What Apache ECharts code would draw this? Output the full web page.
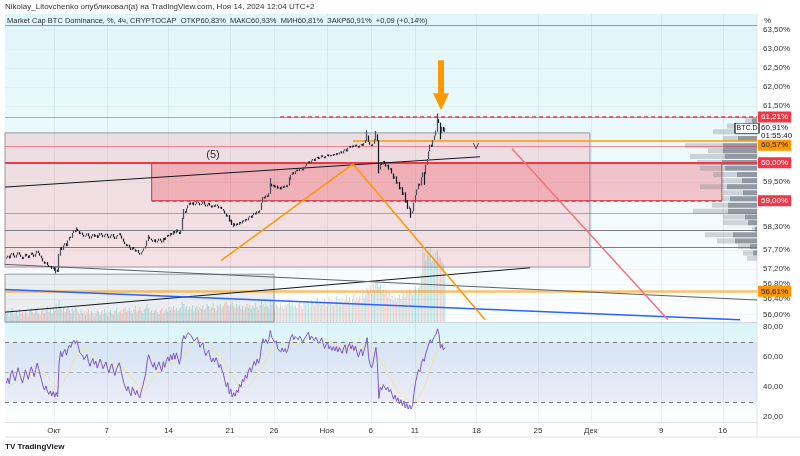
<!DOCTYPE html>
<html>
<head>
<meta charset="utf-8">
<title>Market Cap BTC Dominance</title>
<script src="https://cdn.jsdelivr.net/npm/echarts@6/dist/echarts.min.js"></script>
<style>
  html, body { margin: 0; padding: 0; background: #fff; }
  #chart { width: 800px; height: 456px; }
</style>
</head>
<body>
<div id="chart"></div>
<script>
// x positions are days counted from 1 Oct 2024 00:00 (UTC+2)
const dayTicks = [0, 6, 13, 20, 25, 31, 36, 41, 48, 55, 61, 69, 76];
const dayLabels = ['Окт', '7', '14', '21', '26', 'Ноя', '6', '11', '18', '25', 'Дек', '9', '16'];
const priceTicks = [56.0, 56.4, 56.8, 57.2, 57.7, 58.3, 59.5, 61.5, 62.0, 62.5, 63.0, 63.5];
const rsiTicks = [20, 40, 60, 80];

const firstCandleDay = -5.4167; // 25 Sep 10:00
const candleStep = 1 / 6;       // 4h candles

// closes before the visible window, only used to warm up the RSI
const warmupCloses = [57.82, 57.88, 57.80, 57.85, 57.76, 57.72, 57.79, 57.70, 57.74, 57.66, 57.71, 57.64, 57.68, 57.60,
  57.66, 57.58, 57.63, 57.55, 57.60, 57.52, 57.57, 57.49, 57.54, 57.46, 57.52, 57.44, 57.50, 57.47];

const closes = [
  57.50, 57.55, 57.48, 57.58, 57.62, 57.55, 57.50, 57.57, 57.64, 57.58, 57.52, 57.46,
  57.52, 57.60, 57.55, 57.49, 57.57, 57.63, 57.58, 57.52, 57.60, 57.68, 57.62, 57.55,
  57.48, 57.40, 57.34, 57.38, 57.30, 57.25, 57.28, 57.20, 57.24, 57.15, 57.19, 57.12,
  57.55, 57.78, 57.70, 57.82, 57.88, 57.80, 57.95, 58.05, 58.02, 58.15, 58.22, 58.18,
  58.26, 58.20, 58.12, 58.16, 58.10, 58.05, 58.08, 58.14, 58.06, 58.00, 58.07, 58.12,
  58.05, 58.10, 58.02, 58.08, 58.15, 58.10, 58.04, 58.09, 58.13, 58.06, 58.01, 58.08,
  58.12, 58.05, 57.99, 58.06, 58.10, 58.14, 58.08, 58.00, 57.92, 57.86, 57.80, 57.84,
  57.76, 57.70, 57.78, 57.72, 57.66, 57.70, 57.62, 57.58, 57.64, 57.68, 57.74, 57.80,
  57.95, 58.05, 58.00, 57.96, 57.92, 57.98, 57.90, 57.94, 58.00, 57.95, 57.90, 58.02,
  57.96, 58.04, 58.10, 58.06, 58.15, 58.10, 58.20, 58.14, 58.24, 58.18, 58.12, 58.22,
  58.55, 58.72, 58.68, 58.80, 58.88, 58.95, 58.90, 58.96, 58.88, 58.92, 58.98, 58.94,
  58.88, 58.92, 58.98, 58.90, 58.85, 58.90, 58.94, 58.87, 58.82, 58.88, 58.84, 58.90,
  58.86, 58.80, 58.84, 58.78, 58.74, 58.66, 58.58, 58.62, 58.45, 58.50, 58.36, 58.40,
  58.34, 58.40, 58.36, 58.44, 58.40, 58.48, 58.45, 58.52, 58.48, 58.56, 58.60, 58.55,
  58.62, 58.68, 58.64, 58.72, 58.68, 58.75, 58.95, 59.10, 59.06, 59.14, 59.10, 59.20,
  59.45, 59.38, 59.42, 59.35, 59.40, 59.32, 59.36, 59.30, 59.38, 59.34, 59.40, 59.36,
  59.42, 59.55, 59.68, 59.75, 59.70, 59.78, 59.82, 59.78, 59.86, 59.84, 59.80, 59.88,
  59.92, 59.98, 60.04, 59.98, 60.06, 60.10, 60.05, 60.12, 60.16, 60.10, 60.14, 60.20,
  60.16, 60.12, 60.18, 60.22, 60.17, 60.21, 60.18, 60.23, 60.20, 60.26, 60.22, 60.28,
  60.30, 60.25, 60.32, 60.36, 60.30, 60.40, 60.44, 60.40, 60.46, 60.42, 60.48, 60.44,
  60.40, 60.46, 60.50, 60.45, 60.52, 60.60, 60.72, 60.55, 60.48, 60.44, 60.50, 60.62,
  60.75, 60.58, 59.82, 60.02, 59.95, 60.05, 59.98, 59.90, 59.95, 59.82, 59.86, 59.72,
  59.58, 59.64, 59.45, 59.50, 59.30, 59.36, 59.15, 59.22, 58.95, 59.02, 58.78, 58.85,
  58.66, 58.72, 58.95, 59.15, 59.30, 59.45, 59.40, 59.62, 59.75, 59.70, 59.95, 60.10,
  60.30, 60.48, 60.42, 60.60, 60.72, 60.85, 61.15, 61.05, 60.78, 60.95, 60.83, 60.91
];

// visible wicks: [candle index, low, high]
const wicks = [
  [34, 57.08, 57.24], [36, 57.12, 57.60], [48, 58.18, 58.30], [97, 57.94, 58.10],
  [121, 58.52, 58.78], [155, 58.30, 58.42], [180, 59.18, 59.60], [193, 59.40, 59.62],
  [246, 60.58, 60.86], [252, 60.60, 60.84], [254, 59.72, 60.60], [276, 58.55, 58.80],
  [285, 59.42, 59.76], [294, 60.82, 61.30], [296, 60.62, 61.06], [299, 60.81, 60.93]
];

const volumes = [
  8, 12, 6, 10, 14, 7, 9, 11, 6, 13, 8, 10, 7, 12, 9, 6, 11, 14, 10, 8, 13, 15, 9, 7,
  11, 14, 9, 12, 16, 10, 13, 9, 15, 11, 18, 12, 22, 16, 12, 14, 10, 13, 15, 12, 9, 14, 11, 16,
  13, 10, 8, 12, 9, 11, 7, 10, 12, 8, 11, 9, 6, 9, 12, 10, 7, 11, 8, 13, 9, 6, 10, 12,
  9, 7, 11, 14, 8, 10, 12, 9, 13, 15, 10, 12, 14, 11, 9, 13, 16, 10, 12, 15, 11, 9, 13, 14,
  18, 14, 10, 12, 9, 11, 13, 10, 8, 12, 14, 9, 11, 13, 10, 15, 12, 14, 16, 12, 14, 11, 13, 15,
  20, 18, 14, 16, 12, 15, 13, 17, 11, 14, 16, 12, 15, 13, 17, 12, 14, 18, 16, 13, 15, 19, 14, 12,
  17, 15, 18, 14, 16, 19, 20, 17, 15, 18, 21, 16, 14, 18, 15, 17, 13, 16, 12, 15, 18, 14, 17, 13,
  16, 14, 19, 15, 12, 17, 21, 18, 15, 19, 16, 14, 23, 17, 20, 15, 18, 16, 14, 19, 16, 13, 17, 15,
  18, 22, 16, 19, 15, 17, 14, 18, 20, 16, 13, 19, 17, 21, 18, 15, 22, 19, 16, 20, 24, 18, 21, 17,
  19, 23, 16, 20, 25, 18, 22, 17, 21, 26, 19, 23, 20, 24, 18, 22, 27, 21, 25, 19, 23, 28, 21, 24,
  22, 26, 20, 29, 24, 27, 34, 30, 36, 28, 38, 32, 40, 42, 35, 38, 30, 33, 28, 31, 25, 29, 23, 26,
  22, 25, 20, 24, 27, 23, 26, 29, 25, 31, 28, 33, 30, 27, 32, 35, 29, 34, 36, 48, 76, 70, 62, 72,
  66, 74, 60, 68, 62, 70, 72, 66, 64, 60, 58, 50
];

// visible range volume profile (right side)
const profileLevels = [61.11, 60.97, 60.82, 60.64, 60.45, 60.32, 60.17, 60.01, 59.86, 59.69, 59.53, 59.37,
  59.21, 59.05, 58.88, 58.72, 58.57, 58.42, 58.25, 58.10, 57.94, 57.79, 57.62, 57.48];
const profileTotal = [12, 30, 44, 34, 72, 49, 67, 60, 57, 44, 35, 57, 34, 35, 45, 64, 34, 34, 5, 52, 40, 19, 14, 10];
const profileDark = [5, 19, 22, 19, 34, 34, 32, 35, 32, 20, 15, 30, 14, 27, 29, 29, 12, 9, 2, 24, 22, 7, 4, 0];

const xMin = -5.568, xMax = 79.886;

// drawings: [day1, price1, day2, price2]
const trendLines = [
  [xMin, 59.36, 48.41, 60.16],
  [xMin, 56.06, 54.09, 57.23],
  [xMin, 57.32, xMax, 56.38],
  [xMin, 56.66, 77.95, 55.86],
  [18.98, 57.42, 33.98, 59.97],
  [33.98, 59.97, 48.98, 55.86],
  [52.05, 60.37, 69.77, 55.86]
];
const zones = [
  [xMin, 60.79, 60.9, 57.25],
  [11.1, 60.0, 75.9, 59.0],
  [xMin, 57.06, 25.0, 55.80]
];

var chartDom = document.getElementById('chart');
var myChart = echarts.init(chartDom);
var option;

const font = 'Liberation Sans';
const pct = v => v.toFixed(2).replace('.', ',') + '%';
const clear = 'rgba(0,0,0,0)';

const wickMap = {};
wicks.forEach(w => { wickMap[w[0]] = w; });
const candleData = closes.map((c, i) => {
  const o = i === 0 ? warmupCloses[warmupCloses.length - 1] : closes[i - 1];
  const w = wickMap[i];
  return [firstCandleDay + i * candleStep, o, c, w ? w[1] : Math.min(o, c), w ? w[2] : Math.max(o, c)];
});

const volData = volumes.map((v, i) => ({
  value: [candleData[i][0], v],
  itemStyle: { color: candleData[i][2] >= candleData[i][1] ? 'rgba(38,166,154,0.32)' : 'rgba(239,83,80,0.3)' }
}));

// RSI 14 (Wilder) and its 14 SMA
const allCloses = warmupCloses.concat(closes);
const period = 14;
const rsiAll = [];
let avgGain = 0, avgLoss = 0;
for (let k = 1; k < allCloses.length; k++) {
  const d = allCloses[k] - allCloses[k - 1];
  const g = Math.max(d, 0), l = Math.max(-d, 0);
  if (k <= period) { avgGain += g / period; avgLoss += l / period; }
  else { avgGain = (avgGain * (period - 1) + g) / period; avgLoss = (avgLoss * (period - 1) + l) / period; }
  rsiAll[k] = k >= period ? (avgLoss === 0 ? 100 : 100 - 100 / (1 + avgGain / avgLoss)) : null;
}
const rsiData = [], rsiMaData = [];
closes.forEach((c, i) => {
  const k = i + warmupCloses.length;
  rsiData.push([candleData[i][0], rsiAll[k]]);
  let s = 0;
  for (let j = k - period + 1; j <= k; j++) s += rsiAll[j];
  rsiMaData.push([candleData[i][0], s / period]);
});

const tag = (text, bg, fg, dy) => ({
  show: true, position: 'end', distance: 1, formatter: text, backgroundColor: bg, color: fg,
  fontSize: 8, fontFamily: font, padding: [2, 3, 1, 3], offset: [0, dy || 0]
});
const seg = (t, style) => [{ coord: [t[0], t[1]], lineStyle: style }, { coord: [t[2], t[3]] }];
const salmon = { color: 'rgba(242,54,69,0.55)', width: 1, type: 'solid' };
const grayLine = { color: '#787b86', width: 1, type: 'solid' };
const dashRed = { color: '#f23645', width: 1.5, type: [4, 3] };

const bgGrad = new echarts.graphic.LinearGradient(0, 0, 0, 1, [
  { offset: 0, color: '#e0f6fa' }, { offset: 1, color: '#fbfeff' }
]);
const bgGrad2 = new echarts.graphic.LinearGradient(0, 0, 0, 1, [
  { offset: 0, color: '#d9f4f8' }, { offset: 1, color: '#ffffff' }
]);

option = {
  animation: false,
  textStyle: { fontFamily: font },
  graphic: [
    { type: 'text', left: 5, top: 3, style: { text: 'Nikolay_Litovchenko опубликовал(а) на TradingView.com, Ноя 14, 2024 12:04 UTC+2', fill: '#333', font: '8px "Liberation Sans"' } },
    { type: 'text', left: 7, top: 17, z: 20, style: { text: 'Market Cap BTC Dominance, %, 4ч, CRYPTOCAP  ОТКР60,83%  МАКС60,93%  МИН60,81%  ЗАКР60,91%  +0,09 (+0,14%)', fill: '#2a2e39', font: '7.5px "Liberation Sans"' } },
    { type: 'rect', left: 758, top: 15, shape: { width: 34, height: 11 }, style: { fill: '#fff' }, z: 20 },
    { type: 'text', left: 764, top: 17, z: 21, style: { text: '%', fill: '#333', font: '8px "Liberation Sans"' } },
    { type: 'line', shape: { x1: 757, y1: 14, x2: 757, y2: 437 }, style: { stroke: '#e0e3eb', lineWidth: 1 } },
    { type: 'line', shape: { x1: 5, y1: 437, x2: 800, y2: 437 }, style: { stroke: '#e0e3eb', lineWidth: 1 } },
    { type: 'text', left: 5, top: 443, style: { text: 'TV TradingView', fill: '#131722', font: 'bold 8px "Liberation Sans"' } }
  ],
  grid: [
    { left: 5, right: 43, top: 14, height: 308, show: true, backgroundColor: bgGrad, borderWidth: 0 },
    { left: 5, right: 43, top: 322, height: 100, show: true, backgroundColor: bgGrad2, borderWidth: 0 }
  ],
  xAxis: [
    {
      type: 'value', gridIndex: 0, min: xMin, max: xMax, position: 'bottom',
      axisLabel: { show: false },
      axisTick: { show: false, customValues: dayTicks },
      axisLine: { show: true, lineStyle: { color: '#d1d4dc' } },
      splitLine: { show: true, lineStyle: { color: 'rgba(42,46,57,0.07)' } }
    },
    {
      type: 'value', gridIndex: 0, min: 0, max: 752, position: 'top', inverse: true, show: false
    },
    {
      type: 'value', gridIndex: 1, min: xMin, max: xMax, position: 'bottom',
      axisLabel: {
        customValues: dayTicks, color: '#333', fontSize: 8, margin: 5,
        formatter: v => dayLabels[dayTicks.indexOf(v)]
      },
      axisTick: { show: false, customValues: dayTicks },
      axisLine: { show: true, lineStyle: { color: '#e0e3eb' } },
      splitLine: { show: true, lineStyle: { color: 'rgba(42,46,57,0.07)' } }
    }
  ],
  yAxis: [
    {
      type: 'value', gridIndex: 0, min: 55.80, max: 63.927, position: 'right',
      axisLabel: { customValues: priceTicks, color: '#333', fontSize: 8, margin: 6, formatter: pct },
      axisTick: { show: false, customValues: priceTicks },
      axisLine: { show: false },
      splitLine: { show: true, lineStyle: { color: 'rgba(42,46,57,0.04)' } }
    },
    { type: 'value', gridIndex: 0, min: 0, max: 308, position: 'left', show: false },
    {
      type: 'value', gridIndex: 1, min: 16.667, max: 83.333, position: 'right',
      axisLabel: { customValues: rsiTicks, color: '#333', fontSize: 8, margin: 6, formatter: v => v.toFixed(2).replace('.', ',') },
      axisTick: { show: false, customValues: rsiTicks },
      axisLine: { show: false },
      splitLine: { show: false }
    }
  ],
  series: [
    {
      name: 'profile', type: 'custom', xAxisIndex: 1, yAxisIndex: 0, z: 1,
      data: profileLevels.map((p, i) => [profileTotal[i], p, profileDark[i]]),
      renderItem: (params, api) => {
        const lvl = api.value(1);
        const a = api.coord([api.value(0), lvl + 0.066]);
        const b = api.coord([0, lvl - 0.066]);
        const c = api.coord([api.value(2), lvl + 0.066]);
        return {
          type: 'group', children: [
            { type: 'rect', shape: { x: a[0], y: a[1], width: b[0] - a[0], height: b[1] - a[1] }, style: { fill: 'rgba(120,123,134,0.3)' } },
            { type: 'rect', shape: { x: c[0], y: c[1], width: b[0] - c[0], height: b[1] - c[1] }, style: { fill: 'rgba(100,104,116,0.55)' } }
          ]
        };
      }
    },
    {
      name: 'zones', type: 'line', data: [], xAxisIndex: 0, yAxisIndex: 0, z: 2,
      markArea: {
        silent: true,
        data: [
          [{ xAxis: zones[0][0], yAxis: zones[0][1], itemStyle: { color: 'rgba(242,54,69,0.14)', borderColor: '#9598a1', borderWidth: 1 } }, { xAxis: zones[0][2], yAxis: zones[0][3] }],
          [{ xAxis: zones[1][0], yAxis: zones[1][1], itemStyle: { color: 'rgba(242,54,69,0.28)', borderColor: 'rgba(170,30,40,0.8)', borderWidth: 1 } }, { xAxis: zones[1][2], yAxis: zones[1][3] }],
          [{ xAxis: zones[2][0], yAxis: zones[2][1], itemStyle: { color: 'rgba(120,123,134,0.12)', borderColor: '#9598a1', borderWidth: 1 } }, { xAxis: zones[2][2], yAxis: zones[2][3] }]
        ]
      }
    },
    {
      name: 'Volume', type: 'bar', xAxisIndex: 0, yAxisIndex: 1, z: 3, barWidth: 1,
      data: volData
    },
    {
      name: 'drawings', type: 'line', data: [], xAxisIndex: 0, yAxisIndex: 0, z: 4,
      markLine: {
        silent: true, symbol: ['none', 'none'], label: { show: false },
        data: [
          { yAxis: 63.64, lineStyle: { color: '#9598a1', width: 1, type: 'solid' } },
          { yAxis: 61.21, lineStyle: salmon, label: tag('61,21%', '#f23645', '#fff') },
          [{ coord: [25.7, 61.21], lineStyle: dashRed }, { coord: [xMax, 61.21] }],
          { yAxis: 60.43, lineStyle: salmon },
          { yAxis: 60.00, lineStyle: { color: '#f23645', width: 2, type: 'solid' }, label: tag('60,00%', '#f23645', '#fff') },
          [{ coord: [zones[1][0], 60.0], lineStyle: dashRed }, { coord: [zones[1][2], 60.0] }],
          [{ coord: [zones[1][0], 59.0], lineStyle: dashRed }, { coord: [zones[1][2], 59.0] }],
          { yAxis: 59.00, lineStyle: { color: clear, width: 0 }, label: tag('59,00%', '#f23645', '#fff') },
          { yAxis: 58.66, lineStyle: salmon },
          { yAxis: 58.22, lineStyle: grayLine },
          { yAxis: 57.78, lineStyle: grayLine },
          { yAxis: 56.61, lineStyle: { color: 'rgba(255,152,0,0.6)', width: 2.5, type: 'solid' }, label: tag('56,61%', '#ff9800', '#131722') },
          [{ coord: [33.98, 60.57], lineStyle: { color: '#ff9800', width: 1.5, type: 'solid' }, label: tag('60,57%', '#ff9800', '#131722', 4) }, { coord: [xMax, 60.57] }],
          { yAxis: 60.91, lineStyle: { color: clear, width: 0 }, label: { show: true, position: 'end', distance: 4, offset: [0, 3], formatter: '60,91%\n01:55:40', color: '#131722', fontSize: 8, lineHeight: 8 } },
          seg(trendLines[0], { color: '#131722', width: 1, type: 'solid' }),
          seg(trendLines[1], { color: '#131722', width: 1, type: 'solid' }),
          seg(trendLines[2], { color: '#5d606b', width: 1, type: 'solid' }),
          seg(trendLines[3], { color: '#2962ff', width: 1.5, type: 'solid' }),
          seg(trendLines[4], { color: '#ff9800', width: 1.5, type: 'solid' }),
          seg(trendLines[5], { color: '#ff9800', width: 1.5, type: 'solid' }),
          seg(trendLines[6], { color: '#f7707a', width: 1.5, type: 'solid' })
        ]
      }
    },
    {
      name: 'BTC.D', type: 'candlestick', xAxisIndex: 0, yAxisIndex: 0, z: 5,
      barWidth: 1, encode: { x: 0, y: [1, 2, 3, 4] },
      itemStyle: { color: '#4a4e59', color0: '#131722', borderColor: '#4a4e59', borderColor0: '#131722', borderWidth: 1.2 },
      data: candleData,
      markPoint: {
        silent: true,
        data: [
          { coord: [18.07, 60.21], symbol: 'rect', symbolSize: 1, itemStyle: { color: clear }, label: { show: true, position: 'inside', formatter: '(5)', color: '#2a2e39', fontSize: 11 } },
          { coord: [47.95, 60.42], symbol: 'rect', symbolSize: 1, itemStyle: { color: clear }, label: { show: true, position: 'inside', formatter: 'V', color: '#2a2e39', fontSize: 9 } },
          { coord: [43.98, 62.05], symbol: 'path://M5,0 L11,0 L11,33 L16,33 L8,50 L0,33 L5,33 Z', symbolSize: [16, 50], itemStyle: { color: '#ff9800' }, label: { show: false } },
          { coord: [78.75, 60.91], symbol: 'rect', symbolSize: [24, 10], itemStyle: { color: '#fff', borderColor: '#131722', borderWidth: 0.8 }, label: { show: true, position: 'inside', formatter: 'BTC.D', color: '#131722', fontSize: 7 } }
        ]
      }
    },
    {
      name: 'RSI', type: 'line', xAxisIndex: 2, yAxisIndex: 2, z: 3, showSymbol: false,
      lineStyle: { color: '#7e57c2', width: 1 },
      data: rsiData,
      markArea: { silent: true, itemStyle: { color: 'rgba(126,87,194,0.1)' }, data: [[{ yAxis: 30 }, { yAxis: 70 }]] },
      markLine: {
        silent: true, symbol: ['none', 'none'], label: { show: false },
        lineStyle: { color: '#787b86', type: [4, 4], width: 1 },
        data: [{ yAxis: 70 }, { yAxis: 50, lineStyle: { color: 'rgba(120,123,134,0.5)' } }, { yAxis: 30 }]
      }
    },
    {
      name: 'RSI MA', type: 'line', xAxisIndex: 2, yAxisIndex: 2, z: 2, showSymbol: false,
      lineStyle: { color: '#f3e59a', width: 1 },
      data: rsiMaData
    }
  ]
};

option && myChart.setOption(option);
</script>
</body>
</html>
